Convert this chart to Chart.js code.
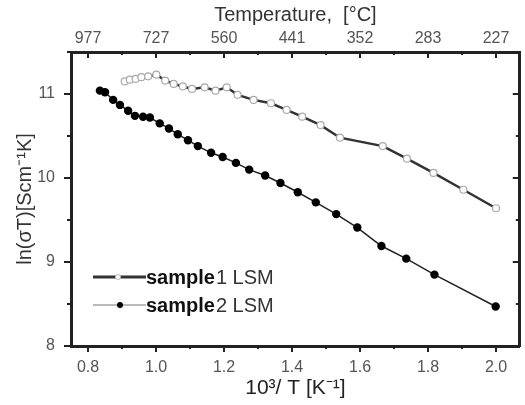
<!DOCTYPE html>
<html>
<head>
<meta charset="utf-8">
<script src="https://cdn.jsdelivr.net/npm/chart.js@4"></script>
<style>
html,body{margin:0;padding:0;background:#fff;}
#wrap{position:relative;width:525px;height:405px;}
#legend{position:absolute;left:93px;top:263px;font-family:"Liberation Sans",Arial,sans-serif;font-size:20px;color:#111;line-height:28px;}
#legend div{display:flex;align-items:center;height:28px;}
#legend span{color:#333;margin-left:1px;}
</style>
</head>
<body>
<div id="wrap">
<canvas id="c" width="525" height="405"></canvas>
<div id="legend">
  <div><svg width="53" height="12"><line x1="0" y1="6" x2="53" y2="6" stroke="#333" stroke-width="3"/><circle cx="25" cy="6" r="2.5" fill="#fff" stroke="#bbb" stroke-width="1"/></svg><b>sample</b><span>1 LSM</span></div>
  <div><svg width="53" height="12"><line x1="0" y1="6" x2="53" y2="6" stroke="#777" stroke-width="1.2"/><circle cx="27" cy="6" r="3" fill="#000"/></svg><b>sample</b><span>2 LSM</span></div>
</div>
</div>
<script>
const s1x = [0.908, 0.923, 0.940, 0.957, 0.977, 1.001, 1.027, 1.052, 1.079, 1.106, 1.143, 1.175, 1.208, 1.240, 1.287, 1.338, 1.384, 1.430, 1.484, 1.541, 1.667, 1.738, 1.816, 1.904, 2.000];
const s1y = [11.15, 11.17, 11.18, 11.20, 11.21, 11.23, 11.16, 11.12, 11.09, 11.06, 11.08, 11.04, 11.08, 10.99, 10.93, 10.89, 10.81, 10.73, 10.63, 10.48, 10.38, 10.23, 10.06, 9.86, 9.64];
const s2x = [0.835, 0.850, 0.874, 0.894, 0.918, 0.938, 0.962, 0.982, 1.011, 1.038, 1.064, 1.094, 1.123, 1.162, 1.196, 1.235, 1.274, 1.321, 1.366, 1.417, 1.470, 1.530, 1.592, 1.663, 1.736, 1.819, 1.999];
const s2y = [11.04, 11.02, 10.93, 10.87, 10.80, 10.74, 10.73, 10.72, 10.65, 10.59, 10.52, 10.45, 10.38, 10.30, 10.25, 10.18, 10.10, 10.03, 9.94, 9.83, 9.71, 9.57, 9.41, 9.19, 9.04, 8.85, 8.47];
const xTicks = [0.8, 1.0, 1.2, 1.4, 1.6, 1.8, 2.0];
const xTickLabels = ['0.8', '1.0', '1.2', '1.4', '1.6', '1.8', '2.0'];
const topTickLabels = ['977', '727', '560', '441', '352', '283', '227'];
const yTicks = [8, 9, 10, 11];

const pts = (xs, ys) => xs.map((x, i) => ({x: x, y: ys[i]}));
const FONT = '"Liberation Sans", Arial, sans-serif';

const tickPlugin = {
  id: 'ticks',
  afterDraw(chart) {
    const ctx = chart.ctx, a = chart.chartArea;
    const xs = chart.scales.x, ys = chart.scales.y;
    ctx.save();
    ctx.strokeStyle = '#222';
    ctx.lineWidth = 2;
    for (let v = 0.8; v <= 2.05; v += 0.1) {
      const major = Math.abs(Math.round(v * 5) - v * 5) < 0.01;
      const px = Math.round(xs.getPixelForValue(v));
      const L = major ? 6 : 3;
      ctx.beginPath();
      ctx.moveTo(px, a.bottom); ctx.lineTo(px, a.bottom + L);
      ctx.moveTo(px, a.top); ctx.lineTo(px, a.top + L);
      ctx.stroke();
    }
    for (let v = 8; v <= 11.5; v += 0.5) {
      const major = Math.abs(v - Math.round(v)) < 0.01;
      const py = Math.round(ys.getPixelForValue(v));
      const L = major ? 7 : 4;
      ctx.beginPath();
      ctx.moveTo(a.left, py); ctx.lineTo(a.left - L, py);
      ctx.moveTo(a.right, py); ctx.lineTo(a.right - L, py);
      ctx.stroke();
    }
    ctx.restore();
  }
};

new Chart(document.getElementById('c'), {
  type: 'line',
  data: {
    datasets: [
      {
        label: 'sample 1 LSM',
        data: pts(s1x, s1y),
        borderColor: '#333',
        borderWidth: 2.5,
        pointRadius: 3.5,
        pointBackgroundColor: '#fff',
        pointBorderColor: '#aaa',
        pointBorderWidth: 1.2,
        tension: 0,
        xAxisID: 'x', yAxisID: 'y'
      },
      {
        label: 'sample 2 LSM',
        data: pts(s2x, s2y),
        borderColor: '#222',
        borderWidth: 1.5,
        pointRadius: 4.2,
        pointBackgroundColor: '#000',
        pointBorderColor: '#000',
        pointBorderWidth: 0,
        tension: 0,
        xAxisID: 'x', yAxisID: 'y'
      }
    ]
  },
  options: {
    responsive: false,
    animation: false,
    layout: {padding: 0},
    plugins: {legend: {display: false}, tooltip: {enabled: false}},
    scales: {
      x: {
        type: 'linear', position: 'bottom', min: 0.75, max: 2.07,
        afterBuildTicks: s => { s.ticks = xTicks.map(v => ({value: v})); },
        afterFit: s => { s.height = 59; },
        grid: {display: false, drawTicks: false},
        border: {display: true, color: '#222', width: 3},
        ticks: {
          padding: 12, color: '#555', font: {family: FONT, size: 16},
          maxRotation: 0, autoSkip: false,
          callback: (v, i) => xTickLabels[i]
        },
        title: {display: true, text: '10³/ T [K⁻¹]', color: '#222', font: {family: FONT, size: 21}, padding: {top: 0, bottom: 4}}
      },
      xTop: {
        type: 'linear', position: 'top', min: 0.75, max: 2.07,
        afterBuildTicks: s => { s.ticks = xTicks.map(v => ({value: v})); },
        afterFit: s => { s.height = 52; },
        grid: {display: false, drawTicks: false},
        border: {display: true, color: '#222', width: 3},
        ticks: {
          padding: 4, color: '#555', font: {family: FONT, size: 16},
          maxRotation: 0, autoSkip: false,
          callback: (v, i) => topTickLabels[i]
        },
        title: {display: true, text: 'Temperature,  [°C]', color: '#333', font: {family: FONT, size: 20}, padding: {top: 3, bottom: 0}}
      },
      y: {
        type: 'linear', position: 'left', min: 8, max: 11.5,
        afterBuildTicks: s => { s.ticks = yTicks.map(v => ({value: v})); },
        afterFit: s => { s.width = 71; },
        grid: {display: false, drawTicks: false},
        border: {display: true, color: '#222', width: 3},
        ticks: {padding: 16, color: '#555', font: {family: FONT, size: 16}, callback: v => String(v)},
        title: {display: true, text: 'ln(σT)[Scm⁻¹K]', color: '#333', font: {family: FONT, size: 20}, padding: {top: 13, bottom: 0}}
      },
      yRight: {
        type: 'linear', position: 'right', min: 8, max: 11.5,
        afterFit: s => { s.width = 3; },
        grid: {display: false, drawTicks: false},
        border: {display: true, color: '#222', width: 3},
        ticks: {display: false}
      }
    }
  },
  plugins: [tickPlugin]
});
</script>
</body>
</html>
